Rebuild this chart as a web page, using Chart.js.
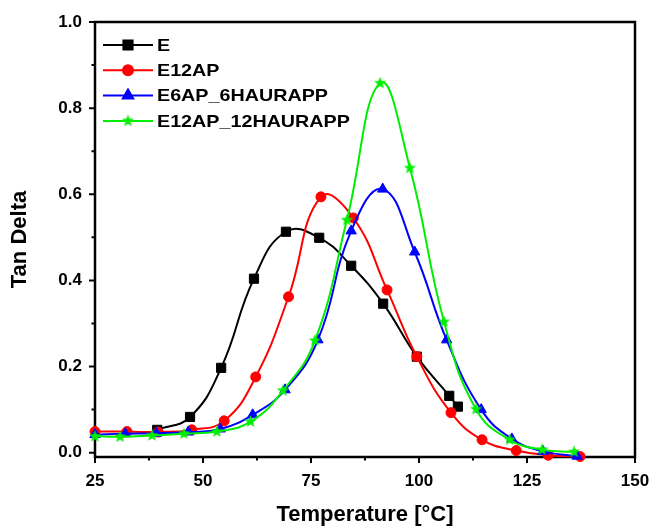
<!DOCTYPE html>
<html>
<head>
<meta charset="utf-8">
<script src="https://cdn.jsdelivr.net/npm/chart.js@4"></script>
<style>
  html, body { margin: 0; padding: 0; background: #fff; }
  .chart-container { width: 651px; height: 526px; position: relative; }
</style>
</head>
<body>
<div class="chart-container"><canvas id="tan-chart" width="651" height="526"></canvas></div>
<script>
// series data (temperature in °C, tan delta)
const seriesNames = ['E', 'E12AP', 'E6AP_6HAURAPP', 'E12AP_12HAURAPP'];
const seriesColors = ['#000000', '#ff0000', '#0000ff', '#00ee00'];

const xE = [39.4, 47.0, 54.2, 61.8, 69.2, 76.9, 84.3, 91.7, 99.5, 107.0, 109.0];
const yE = [0.053, 0.083, 0.197, 0.404, 0.513, 0.499, 0.434, 0.346, 0.223, 0.132, 0.107];

const xE12AP = [25.0, 32.4, 39.6, 47.4, 54.9, 62.2, 69.8, 77.3, 84.8, 92.6, 99.5, 107.4, 114.6, 122.5, 129.9, 137.3];
const yE12AP = [0.049, 0.049, 0.048, 0.053, 0.074, 0.176, 0.362, 0.594, 0.545, 0.378, 0.223, 0.093, 0.030, 0.005, -0.006, -0.009];

const xE6AP = [25.0, 32.0, 39.2, 46.6, 54.0, 61.5, 69.0, 76.6, 84.3, 91.6, 99.0, 106.4, 114.4, 121.5, 128.7, 136.6];
const yE6AP = [0.042, 0.044, 0.045, 0.048, 0.055, 0.088, 0.146, 0.262, 0.515, 0.612, 0.466, 0.262, 0.100, 0.032, 0.003, -0.008];

const xE12H = [25.0, 30.8, 38.2, 45.6, 53.2, 61.0, 68.5, 75.9, 83.3, 91.0, 97.9, 105.8, 113.2, 121.0, 128.5, 135.9];
const yE12H = [0.038, 0.037, 0.040, 0.044, 0.049, 0.072, 0.144, 0.260, 0.540, 0.858, 0.661, 0.304, 0.101, 0.030, 0.007, 0.002];

const xTicks = [25, 50, 75, 100, 125, 150];
const yTicks = [0.0, 0.2, 0.4, 0.6, 0.8, 1.0];

const toPoints = (xs, ys) => xs.map((x, i) => ({ x: x, y: ys[i] }));

// filled five-point star used as the marker of the last series
function makeStar(color, r) {
  const c = document.createElement('canvas');
  const s = Math.ceil(r * 2 + 2);
  c.width = s; c.height = s;
  const g = c.getContext('2d');
  g.fillStyle = color;
  g.beginPath();
  for (let i = 0; i < 10; i++) {
    const rad = i % 2 === 0 ? r : r * 0.42;
    const a = -Math.PI / 2 + i * Math.PI / 5;
    const px = s / 2 + rad * Math.cos(a);
    const py = s / 2 + rad * Math.sin(a);
    if (i === 0) g.moveTo(px, py); else g.lineTo(px, py);
  }
  g.closePath();
  g.fill();
  return c;
}
const starImg = makeStar(seriesColors[3], 6.5);

const pointStyles = ['rect', 'circle', 'triangle', starImg];
const pointRadii = [6.5, 5, 6, 6];

const seriesData = [
  toPoints(xE, yE),
  toPoints(xE12AP, yE12AP),
  toPoints(xE6AP, yE6AP),
  toPoints(xE12H, yE12H)
];

const AREA = { left: 95, top: 22, right: 635, bottom: 457 };

// frame, ticks and legend
const framePlugin = {
  id: 'frame',
  beforeDatasetsDraw(chart) {
    const { ctx, chartArea: a, scales } = chart;
    ctx.save();
    ctx.strokeStyle = '#000';
    ctx.lineWidth = 2.5;
    ctx.strokeRect(a.left, a.top, a.right - a.left, a.bottom - a.top);
    ctx.lineWidth = 2;
    ctx.beginPath();
    for (let v = 0; v <= 10; v++) {
      const py = scales.y.getPixelForValue(v / 10);
      const len = v % 2 === 0 ? 6 : 3.5;
      ctx.moveTo(a.left, py); ctx.lineTo(a.left - len, py);
    }
    for (let v = 25; v <= 150; v += 12.5) {
      const px = scales.x.getPixelForValue(v);
      const len = (v % 25 === 0) ? 6 : 3.5;
      ctx.moveTo(px, a.bottom); ctx.lineTo(px, a.bottom + len);
    }
    ctx.stroke();
    ctx.restore();
  },
  afterDraw(chart) {
    const { ctx } = chart;
    ctx.save();
    ctx.font = 'bold 17px "Liberation Sans", Arial, sans-serif';
    ctx.textBaseline = 'middle';
    seriesNames.forEach((name, i) => {
      const y = 45 + i * 25.3;
      ctx.strokeStyle = seriesColors[i];
      ctx.lineWidth = 2;
      ctx.beginPath();
      ctx.moveTo(103, y); ctx.lineTo(153, y);
      ctx.stroke();
      ctx.fillStyle = seriesColors[i];
      Chart.helpers.drawPoint(ctx, {
        pointStyle: pointStyles[i], radius: pointRadii[i], rotation: 0, borderWidth: 1
      }, 128, y);
      // the original legend text is a little wider than Arial
      ctx.save();
      ctx.translate(157, y + 1);
      ctx.scale(1.16, 1);
      ctx.fillStyle = '#000';
      ctx.fillText(name, 0, 0);
      ctx.restore();
    });
    ctx.restore();
  }
};

document.addEventListener('DOMContentLoaded', () => {
  const ctx = document.getElementById('tan-chart').getContext('2d');

  new Chart(ctx, {
    type: 'line',
    data: {
      datasets: seriesData.map((pts, i) => ({
        label: seriesNames[i],
        data: pts,
        borderColor: seriesColors[i],
        backgroundColor: seriesColors[i],
        pointBackgroundColor: seriesColors[i],
        pointBorderColor: seriesColors[i],
        borderWidth: 2,
        pointStyle: pointStyles[i],
        pointRadius: pointRadii[i],
        pointBorderWidth: 1,
        tension: 0.45,
        fill: false,
        clip: false
      })).reverse()
    },
    options: {
      responsive: false,
      animation: false,
      layout: { padding: { top: AREA.top, right: 651 - AREA.right, left: 0, bottom: 0 } },
      plugins: {
        legend: { display: false },
        tooltip: { enabled: false }
      },
      scales: {
        x: {
          type: 'linear',
          min: 25,
          max: 150,
          afterBuildTicks: (s) => { s.ticks = xTicks.map(v => ({ value: v })); },
          afterFit: (s) => {
            s.height = 526 - AREA.bottom;
            s.paddingLeft = 0;
            s.paddingRight = 0;
          },
          grid: { display: false },
          border: { display: false },
          ticks: {
            color: '#000',
            padding: 6,
            maxRotation: 0,
            font: { family: '"Liberation Sans", Arial', weight: 'bold', size: 17 }
          },
          title: {
            display: true,
            text: 'Temperature [°C]',
            color: '#000',
            padding: { top: 0, bottom: 0 },
            font: { family: '"Liberation Sans", Arial', weight: 'bold', size: 22, lineHeight: 1.0 }
          }
        },
        y: {
          min: -0.01,
          max: 1.0,
          afterBuildTicks: (s) => { s.ticks = yTicks.map(v => ({ value: v })); },
          afterFit: (s) => {
            s.width = AREA.left;
            s.paddingTop = 0;
            s.paddingBottom = 0;
          },
          grid: { display: false },
          border: { display: false },
          ticks: {
            color: '#000',
            padding: 5,
            callback: (v) => v.toFixed(1),
            font: { family: '"Liberation Sans", Arial', weight: 'bold', size: 17 }
          },
          title: {
            display: true,
            text: 'Tan Delta',
            color: '#000',
            padding: { top: 7, bottom: 0 },
            font: { family: '"Liberation Sans", Arial', weight: 'bold', size: 22, lineHeight: 1.2 }
          }
        }
      }
    },
    plugins: [framePlugin]
  });
});
</script>
</body>
</html>
